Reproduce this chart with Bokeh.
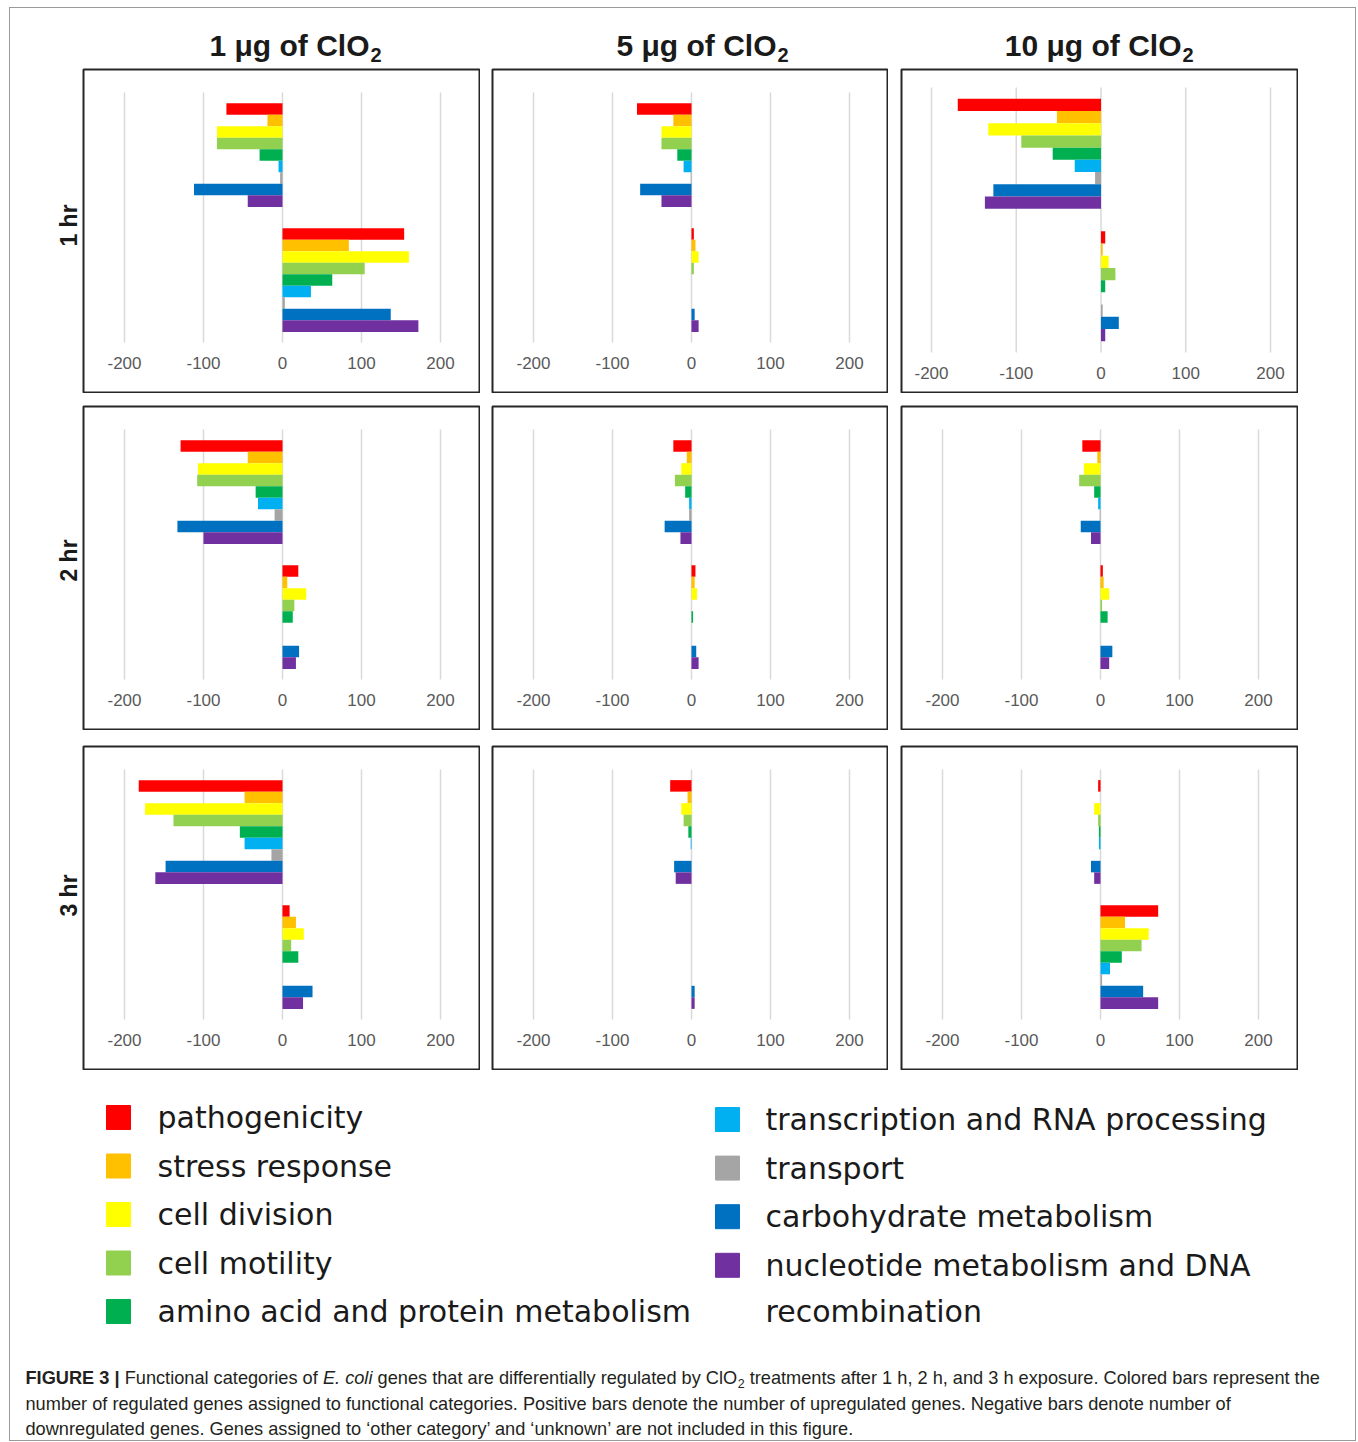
import math
from bokeh.plotting import figure
from bokeh.models import Range1d, FixedTicker, ColumnDataSource, Spacer
from bokeh.layouts import row, column
from bokeh.core.properties import value
from bokeh.embed import file_html
from bokeh.resources import INLINE

# ---------------- data ----------------
categories = ["pathogenicity", "stress response", "cell division", "cell motility",
              "amino acid and protein metabolism", "transcription and RNA processing",
              "transport", "carbohydrate metabolism",
              "nucleotide metabolism and DNA recombination"]
colors = ["#FF0000", "#FFC000", "#FFFF00", "#92D050", "#00B050",
          "#00B0F0", "#A5A5A5", "#0070C0", "#7030A0"]
doses = ["1 μg of ClO", "5 μg of ClO", "10 μg of ClO"]
dose_sub = "2"
times = ["1 hr", "2 hr", "3 hr"]
tick_values = [-200, -100, 0, 100, 200]
tick_labels = ["-200", "-100", "0", "100", "200"]

# downregulated (negative) and upregulated (positive) gene counts per category
down_1hr_1ug = [-71, -19, -83, -83, -29, -5, -3, -112, -44]
up_1hr_1ug = [154, 84, 160, 104, 63, 36, 3, 137, 172]
down_1hr_5ug = [-69, -23, -38, -38, -18, -10, -1, -65, -38]
up_1hr_5ug = [3, 5, 9, 3, 0, 0, 0, 4, 9]
down_1hr_10ug = [-169, -52, -133, -94, -57, -31, -7, -127, -137]
up_1hr_10ug = [5, 2, 9, 17, 5, 0, 2, 21, 5]

down_2hr_1ug = [-129, -44, -107, -108, -34, -31, -10, -133, -100]
up_2hr_1ug = [20, 6, 30, 15, 13, 0, 0, 21, 17]
down_2hr_5ug = [-23, -6, -13, -21, -8, -3, -3, -34, -14]
up_2hr_5ug = [5, 4, 7, 0, 2, 0, 0, 6, 9]
down_2hr_10ug = [-23, -4, -21, -27, -8, -3, -1, -25, -12]
up_2hr_10ug = [3, 4, 11, 2, 9, 0, 0, 15, 11]

down_3hr_1ug = [-182, -48, -174, -138, -54, -48, -14, -148, -161]
up_3hr_1ug = [9, 17, 27, 11, 20, 0, 0, 38, 26]
down_3hr_5ug = [-27, -5, -13, -10, -4, -1, 0, -22, -20]
up_3hr_5ug = [0, 0, 0, 0, 0, 0, 0, 4, 4]
down_3hr_10ug = [-3, 0, -8, -3, -2, -2, 0, -12, -8]
up_3hr_10ug = [73, 31, 61, 52, 27, 12, 2, 54, 73]

caption_l1 = ["FIGURE 3 |", " Functional categories of ", "E. coli",
              " genes that are differentially regulated by ClO", "2",
              " treatments after 1 h, 2 h, and 3 h exposure. Colored bars represent the"]
caption_l2 = ("number of regulated genes assigned to functional categories. Positive bars denote "
              "the number of upregulated genes. Negative bars denote number of")
caption_l3 = ("downregulated genes. Genes assigned to ‘other category’ and ‘unknown’ are not "
              "included in this figure.")

panels = [
    [(down_1hr_1ug, up_1hr_1ug), (down_1hr_5ug, up_1hr_5ug), (down_1hr_10ug, up_1hr_10ug)],
    [(down_2hr_1ug, up_2hr_1ug), (down_2hr_5ug, up_2hr_5ug), (down_2hr_10ug, up_2hr_10ug)],
    [(down_3hr_1ug, up_3hr_1ug), (down_3hr_5ug, up_3hr_5ug), (down_3hr_10ug, up_3hr_10ug)],
]

FONT = "Liberation Sans"


# ---------------- helpers ----------------
def canvas(w, h):
    p = figure(width=w, height=h, x_range=Range1d(0, w), y_range=Range1d(h, 0),
               output_backend="svg", toolbar_location=None,
               x_axis_location=None, y_axis_location=None, min_border=0)
    p.grid.visible = False
    p.outline_line_color = None
    p.background_fill_color = "white"
    p.border_fill_color = "white"
    return p


def panel(down, up, w, h, gx, gy):
    # gx: pixel of -200 and 200 from box left; gy: pixel of y=2 and y=0 from box top
    fw, fh = w - 2, h - 2
    sx = (gx[1] - gx[0]) / 400.0
    x0 = -200 - (gx[0] - 1) / sx
    x1 = 200 + (fw - (gx[1] - 1)) / sx
    sy = (gy[1] - gy[0]) / 2.0
    ytop = 2 + (gy[0] - 1) / sy
    ybot = 0 - (fh - (gy[1] - 1)) / sy
    p = figure(width=w, height=h, x_range=Range1d(x0, x1), y_range=Range1d(ybot, ytop),
               output_backend="svg", toolbar_location=None, y_axis_location=None,
               min_border=1)
    p.xgrid.visible = False
    p.ygrid.visible = False
    p.segment(x0=tick_values, y0=[0] * len(tick_values), x1=tick_values,
              y1=[2] * len(tick_values), line_color="#D9D9D9", line_width=1.5)
    n = len(categories)
    bh = 0.83 / n
    offs = [(n - 1) / 2 - i for i in range(n)]
    ys = [1.5 + o * bh for o in offs] + [0.5 + o * bh for o in offs]
    src = ColumnDataSource(dict(y=ys, right=list(down) + list(up), color=colors + colors))
    p.hbar(y="y", left=0, right="right", height=bh, fill_color="color",
           line_color=None, source=src)
    ax = p.xaxis[0]
    ax.fixed_location = 0
    ax.ticker = FixedTicker(ticks=tick_values)
    ax.major_label_overrides = dict(zip(tick_values, tick_labels))
    ax.axis_line_color = None
    ax.major_tick_line_color = None
    ax.minor_tick_line_color = None
    ax.major_tick_out = 0
    ax.major_tick_in = 0
    ax.major_label_standoff = 14
    ax.major_label_text_font = FONT
    ax.major_label_text_font_size = "17px"
    ax.major_label_text_color = "#595959"
    p.outline_line_color = "#262626"
    p.outline_line_width = 2
    p.background_fill_color = "white"
    p.border_fill_color = "white"
    return p


W = {}
for chars, wv in [("ijl‘’'", 222), (" ftI.,:;!/", 278), ("r-()", 333), ("|", 280),
                  ("cksvxyzJ", 500), ("abdeghnopqu0123456789L", 556), ("FTZ", 611),
                  ("ABEKPSVXY", 667), ("CDHNRUw", 722), ("GOQ", 778), ("mM", 833), ("W", 944)]:
    for ch in chars:
        W[ch] = wv


def tw(s, size):
    return sum(W.get(ch, 556) for ch in s) * size / 1000.0


# ---------------- header ----------------
OX, OY = 10, 8
INNER_W = 1345
header = canvas(INNER_W, 60)
anchors = [369, 776, 1181]
header.text(x=[a - OX for a in anchors], y=[44.5 - OY] * 3, text=doses,
            text_align="right", text_baseline="middle",
            text_font=value(FONT), text_font_style="bold", text_font_size="30px",
            text_color="#1a1a1a")
header.text(x=[a - OX + 1 for a in anchors], y=[54 - OY] * 3, text=[dose_sub] * 3,
            text_align="left", text_baseline="middle",
            text_font=value(FONT), text_font_style="bold", text_font_size="20px",
            text_color="#1a1a1a")

# ---------------- row labels ----------------
rowlab = canvas(72, 1002)
rowlab.text(x=[58] * 3, y=[157, 492, 827], text=times, angle=math.pi / 2,
            text_align="center", text_baseline="middle",
            text_font=value(FONT), text_font_style="bold", text_font_size="23px",
            text_color="#1a1a1a")

# ---------------- panel grid ----------------
widths = [398, 397, 398]
cols = []
for c in range(3):
    figs = []
    for r in range(3):
        d, u = panels[r][c]
        if r == 0 and c == 2:
            f = panel(d, u, widths[c], 325, (31, 370), (19, 284))
        else:
            f = panel(d, u, widths[c], 325, (42, 358), (24, 274))
        figs.append(f)
    cols.append(column([figs[0], Spacer(width=widths[c], height=12), figs[1],
                        Spacer(width=widths[c], height=15), figs[2]]))

middle = row([rowlab, cols[0], Spacer(width=11, height=1002), cols[1],
              Spacer(width=12, height=1002), cols[2], Spacer(width=57, height=1002)])

# ---------------- legend ----------------
LEG_Y0 = 1070
leg = canvas(INNER_W, 275)
left_idx = [0, 1, 2, 3, 4]
right_idx = [5, 6, 7, 8]
sq_x, sq_y, sq_c = [], [], []
tx_x, tx_y, tx_t = [], [], []
for k, i in enumerate(left_idx):
    yy = 1117 + 48.5 * k - LEG_Y0
    sq_x.append(118 - OX); sq_y.append(yy); sq_c.append(colors[i])
    tx_x.append(157 - OX); tx_y.append(yy); tx_t.append(categories[i])
for k, i in enumerate(right_idx):
    yy = 1119 + 48.6 * k - LEG_Y0
    sq_x.append(727 - OX); sq_y.append(yy); sq_c.append(colors[i])
    name = categories[i]
    if i == 8:
        first, last = name.rsplit(" ", 1)
        tx_x += [765 - OX, 765 - OX]; tx_y += [yy, 1311 - LEG_Y0]; tx_t += [first, last]
    else:
        tx_x.append(765 - OX); tx_y.append(yy); tx_t.append(name)
leg.scatter(x=sq_x, y=sq_y, marker="square", size=24, fill_color=sq_c, line_color=sq_c)
leg.text(x=tx_x, y=tx_y, text=tx_t, text_align="left", text_baseline="middle",
         text_font=value("DejaVu Sans"), text_font_size="30px", text_color="#1a1a1a")

# ---------------- caption ----------------
CAP_Y0 = 1345
cap = canvas(INNER_W, 95)
CS = 18.2
x = 25 - OX
mid1 = 1377 - CAP_Y0
for k, seg in enumerate(caption_l1):
    style = "normal"
    size = CS
    yb = mid1
    if k == 0:
        style = "bold"
    elif k == 2:
        style = "italic"
    elif k == 4:
        size = 12.5
        yb = mid1 + 6
    lead = len(seg) - len(seg.lstrip(" "))
    cap.text(x=[x + tw(" " * lead, size)], y=[yb], text=[seg.strip()], text_align="left",
             text_baseline="middle", text_font=value(FONT), text_font_style=style,
             text_font_size=f"{size}px", text_color="#231f20")
    x += tw(seg, size)
cap.text(x=[25 - OX, 25 - OX], y=[1403 - CAP_Y0, 1428 - CAP_Y0],
         text=[caption_l2, caption_l3], text_align="left", text_baseline="middle",
         text_font=value(FONT), text_font_size=f"{CS}px", text_color="#231f20")

inner = column([header, middle, leg, cap])
inner.styles = {"outline": "1px solid #9a9a9a"}
layout = column([Spacer(width=1358, height=OY), row([Spacer(width=OX, height=1432), inner])])

open("out.html", "w").write(file_html(layout, INLINE))
